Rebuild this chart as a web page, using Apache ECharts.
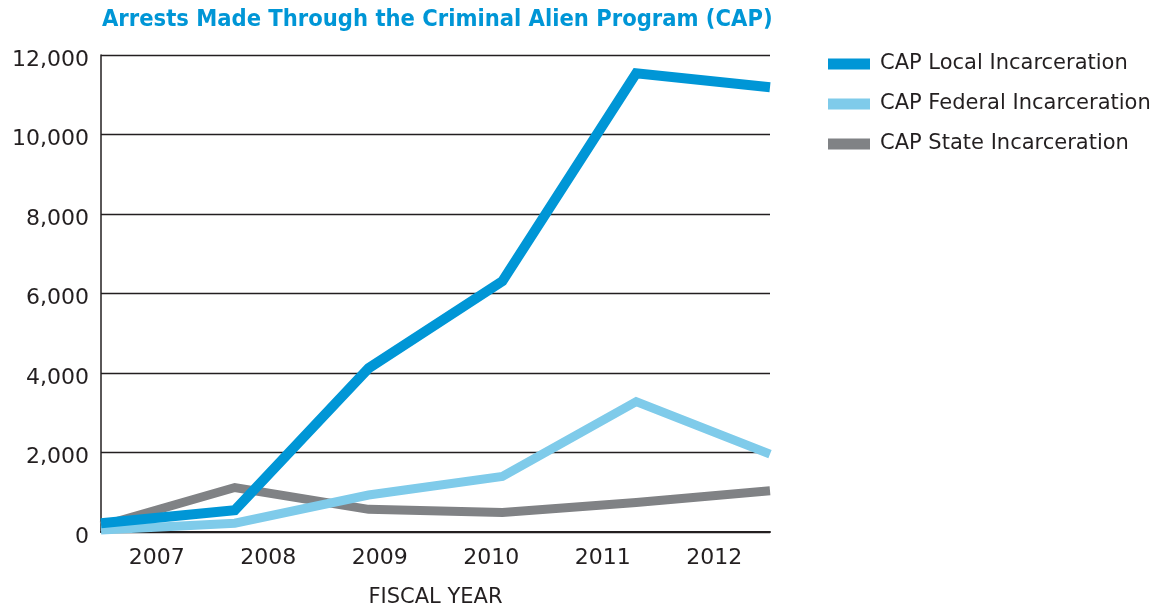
<!DOCTYPE html>
<html>
<head>
<meta charset="utf-8">
<script src="https://cdn.jsdelivr.net/npm/echarts@6/dist/echarts.min.js"></script>
<style>
html,body{margin:0;padding:0;background:#fff;}
#chart{width:1152px;height:607px;}
</style>
</head>
<body>
<div id="chart"></div>
<script>
const years = ['2007', '2008', '2009', '2010', '2011', '2012'];
const localValues = [220, 550, 4120, 6310, 11540, 11190];
const federalValues = [50, 220, 930, 1400, 3280, 1960];
const stateValues = [150, 1120, 570, 490, 740, 1040];
const yTicks = { min: 0, max: 12000, interval: 2000 };
const seriesNames = ['CAP Local Incarceration', 'CAP Federal Incarceration', 'CAP State Incarceration'];
const colors = { local: '#0096d6', federal: '#7fcbea', state: '#808285' };

const chart = echarts.init(document.getElementById('chart'), null, { renderer: 'canvas' });
const ink = '#231f20';
chart.setOption({
  animation: false,
  backgroundColor: '#ffffff',
  title: {
    text: 'Arrests Made Through the Criminal Alien Program (CAP)',
    left: 97, top: 3,
    textStyle: { fontFamily: '"Liberation Sans Narrow", "DejaVu Sans Condensed", sans-serif', fontWeight: 'bold', fontSize: 23.5, color: colors.local }
  },
  legend: {
    orient: 'vertical', left: 828, top: 53, padding: 0,
    itemWidth: 42, itemHeight: 11, itemGap: 18,
    icon: 'rect',
    data: seriesNames,
    textStyle: { fontFamily: '"DejaVu Sans"', fontSize: 21, color: ink, lineHeight: 22, padding: [0, 0, 0, 5] }
  },
  grid: { left: 101, right: 382, top: 55, bottom: 75, containLabel: false, outerBoundsMode: 'none' },
  xAxis: [
    { type: 'category', data: years, boundaryGap: false, show: false },
    {
      type: 'category', data: years, boundaryGap: true, position: 'bottom',
      axisLine: { show: true, lineStyle: { color: ink, width: 2 } },
      axisTick: { show: false },
      axisLabel: { fontFamily: '"DejaVu Sans"', fontSize: 22, color: ink, margin: 15 },
      name: 'FISCAL YEAR', nameLocation: 'middle', nameGap: 55,
      nameTextStyle: { fontFamily: '"DejaVu Sans"', fontSize: 21, color: ink }
    }
  ],
  yAxis: {
    type: 'value', min: yTicks.min, max: yTicks.max, interval: yTicks.interval,
    axisLine: { show: true, lineStyle: { color: ink, width: 1.5 } },
    axisTick: { show: false },
    axisLabel: { color: ink, margin: 12,
      formatter: v => '{a|' + v.toLocaleString('en-US') + '}',
      rich: { a: { fontFamily: '"DejaVu Sans"', fontSize: 22, color: ink, lineHeight: 22, padding: [10, 0, 0, 0] } } },
    splitLine: { show: true, lineStyle: { color: ink, width: 1.3 } }
  },
  series: [
    { name: seriesNames[2], type: 'line', xAxisIndex: 0, data: stateValues, symbol: 'none',
      lineStyle: { color: colors.state, width: 9, join: 'miter' }, itemStyle: { color: colors.state }, z: 2 },
    { name: seriesNames[1], type: 'line', xAxisIndex: 0, data: federalValues, symbol: 'none',
      lineStyle: { color: colors.federal, width: 9, join: 'miter' }, itemStyle: { color: colors.federal }, z: 3 },
    { name: seriesNames[0], type: 'line', xAxisIndex: 0, data: localValues, symbol: 'none',
      lineStyle: { color: colors.local, width: 10, join: 'miter' }, itemStyle: { color: colors.local }, z: 4 }
  ]
});
</script>
</body>
</html>
